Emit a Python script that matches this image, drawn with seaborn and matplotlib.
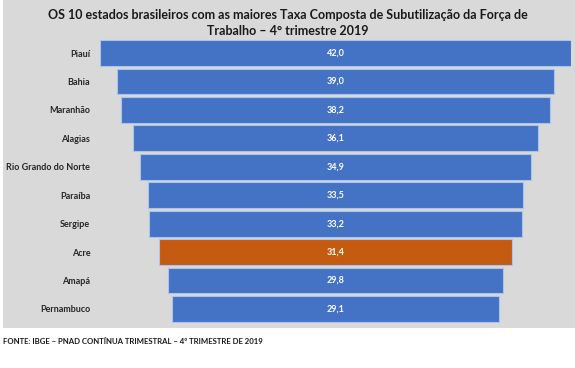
import matplotlib
matplotlib.use("Agg")
import matplotlib.pyplot as plt
import matplotlib.patches as mpatches
import seaborn as sns
import pandas as pd

# Data
estados = ["Piauí", "Bahia", "Maranhão", "Alagias", "Rio Grando do Norte",
           "Paraíba", "Sergipe", "Acre", "Amapá", "Pernambuco"]
taxas = [42.0, 39.0, 38.2, 36.1, 34.9, 33.5, 33.2, 31.4, 29.8, 29.1]
destaque = "Acre"

titulo = ("OS 10 estados brasileiros com as maiores Taxa Composta de Subutilização da Força de\n"
          "Trabalho – 4° trimestre 2019")
fonte = "FONTE: IBGE – PNAD CONTÍNUA TRIMESTRAL – 4º TRIMESTRE DE 2019"

azul = "#4472C4"
laranja = "#C55A11"
cinza = "#D9D9D9"

sns.set_theme(style="white")
plt.rcParams["font.family"] = ["Lato", "DejaVu Sans"]

df = pd.DataFrame({"estado": estados, "taxa": taxas})
cores = {e: (laranja if e == destaque else azul) for e in estados}

fig = plt.figure(figsize=(5.75, 3.68), dpi=100)
fig.patch.set_facecolor("white")

# gray panel behind the chart
painel = mpatches.Rectangle((3 / 575, 40 / 368), 1, 1, transform=fig.transFigure,
                            facecolor=cinza, edgecolor="none", zorder=0)
fig.patches.append(painel)

ax = fig.add_axes([100 / 575, 44.8 / 368, 471 / 575, 284.4 / 368])
ax.set_facecolor("none")
ax.set_zorder(2)

sns.barplot(data=df, x="taxa", y="estado", hue="estado", palette=cores,
            saturation=1, legend=False, width=0.91, edgecolor="#A9C4EB",
            linewidth=0.8, ax=ax)

# center the bars to get the funnel shape
for p, v in zip(ax.patches, taxas):
    p.set_x(-v / 2)
    ax.text(0, p.get_y() + p.get_height() / 2, f"{v:.1f}".replace(".", ","),
            ha="center", va="center", color="white", fontsize=6.5, fontweight="bold")

ax.set_xlim(-21, 21)
ax.set_xticks([])
ax.set_xlabel("")
ax.set_ylabel("")
ax.tick_params(axis="y", length=0, pad=7)
for lbl in ax.get_yticklabels():
    lbl.set_fontsize(6.5)
    lbl.set_fontweight("bold")
    lbl.set_color("#262626")
sns.despine(ax=ax, left=True, bottom=True)

fig.text(0.5, 1 - 23 / 368, titulo, ha="center", va="center", fontsize=9,
         fontweight="bold", color="#1a1a1a", linespacing=1.45)
fig.text(3 / 575, 1 - 341 / 368, fonte, ha="left", va="center", fontsize=5.6,
         fontweight="bold", color="#1a1a1a")

fig.savefig("out.png", dpi=100)
